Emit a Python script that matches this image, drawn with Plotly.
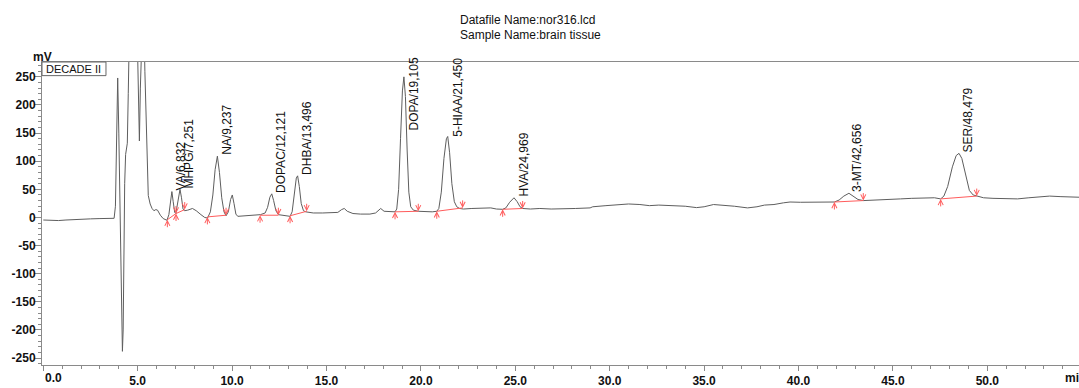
import plotly.graph_objects as go

# ---------------- data ----------------
time_min = [
    0.0, 0.4, 0.8, 1.2, 1.6, 2.0, 2.5, 3.0, 3.5, 3.75, 3.82, 3.88, 3.94, 4.00, 4.05,
    4.09, 4.12, 4.16, 4.19, 4.23, 4.26, 4.31, 4.36, 4.40, 4.45, 4.50, 4.55, 4.70, 4.90,
    5.00, 5.05, 5.09, 5.14, 5.20, 5.30, 5.38, 5.45, 5.50, 5.56, 5.66, 5.76, 5.86, 5.96,
    6.05, 6.20, 6.35, 6.55, 6.65, 6.73, 6.81, 6.88, 6.96, 7.02, 7.12, 7.24, 7.32, 7.40,
    7.48, 7.65, 7.90, 8.10, 8.35, 8.55, 8.70, 8.85, 8.98, 9.10, 9.22, 9.33, 9.45, 9.57,
    9.68, 9.80, 9.92, 10.01, 10.10, 10.20, 10.30, 10.60, 11.00, 11.50, 11.75, 11.88,
    12.00, 12.10, 12.20, 12.32, 12.45, 12.70, 13.07, 13.18, 13.30, 13.40, 13.47, 13.56,
    13.66, 13.78, 13.90, 14.30, 14.80, 15.36, 15.60, 15.80, 15.94, 16.10, 16.40, 16.80,
    17.30, 17.60, 17.87, 18.05, 18.36, 18.63, 18.72, 18.82, 18.92, 19.02, 19.10, 19.18,
    19.27, 19.36, 19.46, 19.60, 19.86, 20.20, 20.60, 20.84, 20.95, 21.08, 21.22, 21.35,
    21.42, 21.52, 21.64, 21.77, 21.90, 22.05, 22.25, 22.70, 23.20, 23.70, 24.00, 24.33,
    24.50, 24.70, 24.93, 25.10, 25.25, 25.39, 25.80, 26.30, 26.90, 27.50, 28.20, 28.96,
    29.10, 29.80, 30.50, 31.00, 31.60, 32.10, 32.60, 33.20, 34.00, 34.60, 35.00, 35.50,
    36.00, 36.60, 37.30, 37.80, 38.20, 38.70, 39.20, 39.55, 40.10, 40.60, 41.20, 41.90,
    42.15, 42.40, 42.67, 42.90, 43.15, 43.43, 43.90, 44.50, 45.00, 45.40, 46.00, 46.60,
    47.20, 47.53, 47.70, 47.90, 48.15, 48.35, 48.50, 48.65, 48.85, 49.05, 49.25, 49.44,
    49.80, 50.30, 50.90, 51.60, 52.20, 52.80, 53.30, 53.90, 54.40, 54.86,
]
signal_mv = [
    -4.5, -5.0, -5.5, -4.5, -3.5, -3.0, -2.5, -2.0, -2.0, -1.5, 20, 150, 248, 150, 30,
    -20, -100, -195, -238, -200, -57, 60, 112, 128, 132, 220, 330, 600, 450,
    300, 180, 136, 230, 400, 400, 260, 150, 90, 39, 24, 16, 12, 14,
    13, 4, -2, -5, 5, 30, 46, 28, 9, 7, 30, 50, 35, 15,
    12, 13, 16, 12, 5, 0, -1, 10, 40, 85, 109, 80, 35, 10,
    3, 10, 32, 40, 25, 6, 2, 3, 4, 5, 8, 18,
    36, 42, 30, 12, 5, 4, 2, 10, 40, 70, 74, 55,
    25, 12, 10, 8, 8, 8, 9, 14, 16, 11, 7, 6,
    6, 8, 16, 11, 10, 10, 15, 50, 140, 225, 250, 215,
    120, 45, 19, 13, 11, 10, 10, 11, 16, 45, 105, 140,
    144, 115, 60, 28, 19, 16, 15, 16, 17, 17, 15, 14.5,
    17, 27, 35, 28, 19, 16, 15, 16, 15, 16, 16, 17,
    19, 21, 22, 24, 23, 21, 22, 21, 20, 17.5, 19, 23,
    22, 20, 17, 19, 22, 23, 26, 27.5, 27, 27.5, 28, 27.5,
    31, 38, 43, 38, 32, 30, 31, 32, 33, 33, 34, 35,
    35, 33, 38, 55, 90, 110, 114, 105, 75, 48, 40, 38,
    35, 34, 34, 33, 35, 37, 38, 37, 36, 36,
]

peak_names = ["VA", "MHPG", "NA", "DOPAC", "DHBA", "DOPA", "5-HIAA", "HVA", "3-MT", "SER"]
peak_rt = [6.832, 7.251, 9.237, 12.121, 13.496, 19.105, 21.450, 24.969, 42.656, 48.479]
base_start_t = [6.57, 7.03, 8.69, 11.48, 13.07, 18.63, 20.84, 24.33, 41.90, 47.53]
base_start_mv = [-4, 7, 1, 4, 3, 10, 11, 14.5, 27.5, 33]
base_end_t = [7.03, 7.49, 9.68, 12.45, 13.95, 19.86, 22.21, 25.39, 43.43, 49.44]
base_end_mv = [7, 14, 4, 4, 11, 11, 17, 16, 30, 38]

x_tick_vals = [0, 5, 10, 15, 20, 25, 30, 35, 40, 45, 50]
y_tick_vals = [-250, -200, -150, -100, -50, 0, 50, 100, 150, 200, 250]

title_lines = ["Datafile Name:nor316.lcd", "Sample Name:brain tissue"]
detector_name = "DECADE II"

# ---------------- styling ----------------
FONT = "Liberation Sans, Arial, sans-serif"
AXIS_GRAY = "#8a8a8a"
TRACE_COLOR = "#5e5e5e"
RED = "#ff5c5c"
X_RANGE = [-0.069, 54.856]
Y_RANGE = [-262.3, 276.4]
PX_PER_MV = 306 / (Y_RANGE[1] - Y_RANGE[0])

fig = go.Figure()

fig.add_trace(go.Scatter(
    x=time_min, y=signal_mv, mode="lines",
    line=dict(color=TRACE_COLOR, width=1), hoverinfo="skip",
))

# integration baselines
for i in range(len(peak_names)):
    fig.add_trace(go.Scatter(
        x=[base_start_t[i], base_end_t[i]], y=[base_start_mv[i], base_end_mv[i]],
        mode="lines", line=dict(color=RED, width=1), hoverinfo="skip",
    ))

annotations = []
shapes = []

for i, name in enumerate(peak_names):
    # start / end markers
    annotations.append(dict(x=base_start_t[i], y=base_start_mv[i], xref="x", yref="y",
                            text="", showarrow=True, ax=0, ay=9, arrowhead=5,
                            arrowsize=1, arrowwidth=1, arrowcolor=RED))
    annotations.append(dict(x=base_end_t[i], y=base_end_mv[i], xref="x", yref="y",
                            text="", showarrow=True, ax=0, ay=-9, arrowhead=5,
                            arrowsize=1, arrowwidth=1, arrowcolor=RED))
    # apex height from the signal inside the integration window
    window = [v for t, v in zip(time_min, signal_mv)
              if base_start_t[i] <= t <= base_end_t[i]]
    apex_v = max(window)
    label = f"{name}/{peak_rt[i]:.3f}".replace(".", ",")
    label_len_px = len(label) * 6.6
    room_px = (Y_RANGE[1] - apex_v) * PX_PER_MV
    if label_len_px > room_px:
        annotations.append(dict(x=peak_rt[i], y=1, xref="x", yref="paper", text=label,
                                textangle=-90, showarrow=False, xanchor="left",
                                yanchor="top", yshift=5, xshift=1, borderpad=0,
                                font=dict(family=FONT, size=12, color="#111")))
    else:
        annotations.append(dict(x=peak_rt[i], y=apex_v, xref="x", yref="y", text=label,
                                textangle=-90, showarrow=False, xanchor="left",
                                yanchor="bottom", xshift=1, borderpad=0,
                                font=dict(family=FONT, size=12, color="#111")))
    if name == "MHPG":
        shapes.append(dict(type="line", xref="x", yref="y",
                           x0=peak_rt[i] + 0.05, x1=peak_rt[i] + 0.65,
                           y0=apex_v + 17, y1=apex_v + 17,
                           line=dict(color="#5a6fd0", width=1)))

# header text
annotations.append(dict(x=0.4012, y=1.137, xref="paper", yref="paper", text=title_lines[0],
                        showarrow=False, xanchor="left", yanchor="middle",
                        font=dict(family=FONT, size=12, color="#111")))
annotations.append(dict(x=0.4012, y=1.088, xref="paper", yref="paper", text=title_lines[1],
                        showarrow=False, xanchor="left", yanchor="middle",
                        font=dict(family=FONT, size=12, color="#111")))
# unit labels
annotations.append(dict(x=0, y=1.017, xref="paper", yref="paper", text="mV",
                        showarrow=False, xanchor="center", yanchor="middle",
                        font=dict(family=FONT, size=12, color="#111", weight="bold")))
annotations.append(dict(x=54.0, y=0, xref="x", yref="paper", text="min",
                        showarrow=False, xanchor="left", yanchor="middle", yshift=-13,
                        font=dict(family=FONT, size=12, color="#111", weight="bold")))
annotations.append(dict(x=0, y=0, xref="x", yref="paper", text="0.0",
                        showarrow=False, xanchor="left", yanchor="middle", yshift=-13,
                        font=dict(family=FONT, size=12, color="#111", weight="bold")))
# detector box
shapes.append(dict(type="rect", xref="paper", yref="paper", x0=0, x1=0.0617,
                   y0=0.955, y1=1.0, line=dict(color="#666", width=1)))
annotations.append(dict(x=0.002, y=0.977, xref="paper", yref="paper", text=detector_name,
                        showarrow=False, xanchor="left", yanchor="middle",
                        font=dict(family=FONT, size=11, color="#111")))

fig.update_layout(
    width=1079, height=388,
    margin=dict(l=42, r=0, t=62, b=20),
    paper_bgcolor="white", plot_bgcolor="white",
    showlegend=False,
    annotations=annotations, shapes=shapes,
    xaxis=dict(
        range=X_RANGE, showgrid=False, zeroline=False,
        showline=True, linecolor=AXIS_GRAY, linewidth=1, mirror=True,
        tickmode="array", tickvals=x_tick_vals,
        ticktext=[""] + [f"{v:.1f}" for v in x_tick_vals[1:]],
        ticks="outside", ticklen=5, tickcolor=AXIS_GRAY,
        tickfont=dict(family=FONT, size=12, color="#111", weight="bold"),
        minor=dict(tickmode="linear", tick0=0, dtick=1, ticks="outside",
                   ticklen=3, tickcolor=AXIS_GRAY),
    ),
    yaxis=dict(
        range=Y_RANGE, showgrid=False, zeroline=False,
        showline=True, linecolor=AXIS_GRAY, linewidth=1, mirror=False,
        tickmode="array", tickvals=y_tick_vals,
        ticktext=[str(v) for v in y_tick_vals],
        ticks="outside", ticklen=7, tickcolor=AXIS_GRAY,
        ticklabelstandoff=-4,
        tickfont=dict(family=FONT, size=12, color="#111", weight="bold"),
        minor=dict(tickmode="linear", tick0=0, dtick=10, ticks="outside",
                   ticklen=3, tickcolor=AXIS_GRAY),
    ),
)

fig.write_html("out.html", config={"displayModeBar": False},
               post_script="document.body.style.margin='0px';document.body.style.padding='0px';")
